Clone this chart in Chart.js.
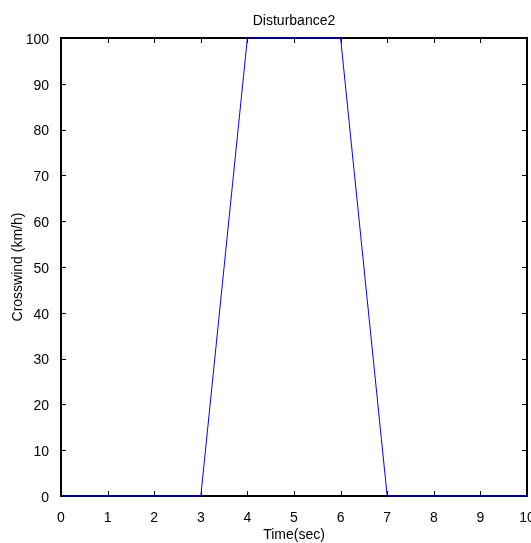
<!DOCTYPE html>
<html>
<head>
<meta charset="utf-8">
<script src="https://cdn.jsdelivr.net/npm/chart.js@4"></script>
<style>
  html, body { margin: 0; padding: 0; background: #fff; }
  #wrap { width: 531px; height: 543px; }
</style>
</head>
<body>
<div id="wrap"><canvas id="chart" width="531" height="543"></canvas></div>
<script>
const chartTitle = 'Disturbance2';
const xTitle = 'Time(sec)';
const yTitle = 'Crosswind (km/h)';

// time (sec) and crosswind (km/h) corner points of the disturbance
const timeSec = [0, 3, 4, 6, 7, 10];
const crosswind = [0, 0, 100, 100, 0, 0];

const FONT = 'Arial, "Liberation Sans", sans-serif';
const FSIZE = 14;

// MATLAB style box with inward ticks on all four sides, plus the title
const matlabBox = {
  id: 'matlabBox',
  beforeDatasetsDraw(chart) {
    const { ctx, chartArea: a, scales } = chart;
    ctx.save();
    ctx.strokeStyle = '#000';
    ctx.lineWidth = 1;
    const len = 5;
    scales.x.ticks.forEach(t => {
      const px = Math.round(scales.x.getPixelForValue(t.value)) + 0.5;
      ctx.beginPath();
      ctx.moveTo(px, a.bottom); ctx.lineTo(px, a.bottom - len);
      ctx.moveTo(px, a.top); ctx.lineTo(px, a.top + len);
      ctx.stroke();
    });
    scales.y.ticks.forEach(t => {
      const py = Math.round(scales.y.getPixelForValue(t.value)) + 0.5;
      ctx.beginPath();
      ctx.moveTo(a.left, py); ctx.lineTo(a.left + len, py);
      ctx.moveTo(a.right, py); ctx.lineTo(a.right - len, py);
      ctx.stroke();
    });
    ctx.lineWidth = 2;
    ctx.strokeRect(a.left, a.top, a.right - a.left, a.bottom - a.top);

    ctx.fillStyle = '#000';
    ctx.font = FSIZE + 'px ' + FONT;
    ctx.textAlign = 'center';
    ctx.textBaseline = 'alphabetic';
    ctx.fillText(chartTitle, (a.left + a.right) / 2, 25);
    ctx.restore();
  }
};

new Chart(document.getElementById('chart'), {
  type: 'scatter',
  data: {
    datasets: [{
      data: timeSec.map((t, i) => ({ x: t, y: crosswind[i] })),
      showLine: true,
      borderColor: '#0000ff',
      borderWidth: 1,
      pointRadius: 0,
      tension: 0,
      clip: 4
    }]
  },
  options: {
    responsive: false,
    animation: false,
    layout: { padding: { top: 38, right: 4, left: 0, bottom: 0 } },
    plugins: {
      legend: { display: false },
      tooltip: { enabled: false },
      title: { display: false }
    },
    scales: {
      x: {
        type: 'linear',
        min: 0,
        max: 10,
        afterFit: s => { s.height = 47; s.paddingLeft = 0; s.paddingRight = 0; },
        grid: { display: false },
        border: { display: false },
        ticks: {
          stepSize: 1,
          color: '#000',
          padding: 6,
          font: { family: FONT, size: FSIZE }
        },
        title: {
          display: true,
          text: xTitle,
          color: '#000',
          font: { family: FONT, size: FSIZE },
          padding: { top: 0, bottom: -1 }
        }
      },
      y: {
        type: 'linear',
        min: 0,
        max: 100,
        afterFit: s => { s.width = 61; s.paddingTop = 0; s.paddingBottom = 0; },
        grid: { display: false },
        border: { display: false },
        ticks: {
          stepSize: 10,
          color: '#000',
          padding: 4,
          labelOffset: 2,
          font: { family: FONT, size: FSIZE }
        },
        title: {
          display: true,
          text: yTitle,
          color: '#000',
          font: { family: FONT, size: FSIZE },
          padding: { top: 10, bottom: 0 }
        }
      }
    }
  },
  plugins: [matlabBox]
});
</script>
</body>
</html>
